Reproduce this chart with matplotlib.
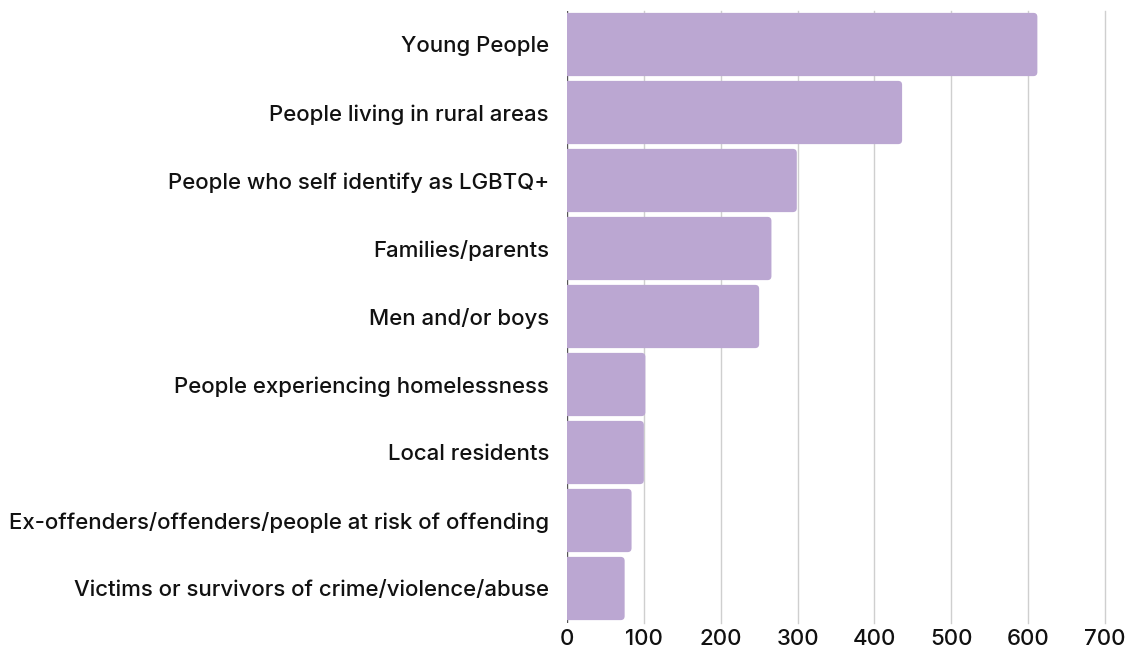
import numpy as np
import matplotlib.pyplot as plt
from matplotlib.patches import FancyBboxPatch

plt.rcParams['font.family'] = ['Inter', 'DejaVu Sans']

categories = [
    "Young People",
    "People living in rural areas",
    "People who self identify as LGBTQ+",
    "Families/parents",
    "Men and/or boys",
    "People experiencing homelessness",
    "Local residents",
    "Ex-offenders/offenders/people at risk of offending",
    "Victims or survivors of crime/violence/abuse",
]
values = [612, 436, 299, 266, 250, 102, 100, 84, 75]
xticks = [0, 100, 200, 300, 400, 500, 600, 700]

bar_color = "#bba7d2"
text_color = "#111111"

fig = plt.figure(figsize=(11.29, 6.48), dpi=100)
ax = fig.add_axes([567 / 1129, 1 - 622.5 / 648, 538 / 1129, 612 / 648])

ax.set_xlim(0, 700)
ax.set_ylim(len(categories) - 0.5, -0.5)

# grid
for t in xticks[1:]:
    ax.axvline(t, color="#cfcfcf", lw=1, zorder=0, clip_on=False)
ax.axvline(0, color="#555555", lw=1, zorder=0)

# rounded bars (right corners), left edge hidden behind x=0
px_x = 700 / 538
px_y = len(categories) / 612
h = 0.93
for i, v in enumerate(values):
    p = FancyBboxPatch((-10, i - h / 2), v + 10, h,
                       boxstyle="round,pad=0,rounding_size=%f" % (4 * px_x),
                       mutation_aspect=px_y / px_x,
                       fc=bar_color, ec="none", zorder=2)
    ax.add_patch(p)

ax.set_yticks(range(len(categories)))
ax.set_yticklabels(categories, fontsize=16, color=text_color, fontweight=500)
ax.set_xticks(xticks)
ax.set_xticklabels([str(t) for t in xticks], fontsize=16, color=text_color, fontweight=500)
ax.tick_params(axis="both", length=0)
ax.tick_params(axis="y", pad=13)
ax.tick_params(axis="x", pad=5)
for s in ax.spines.values():
    s.set_visible(False)

fig.savefig("out.png", dpi=100)
